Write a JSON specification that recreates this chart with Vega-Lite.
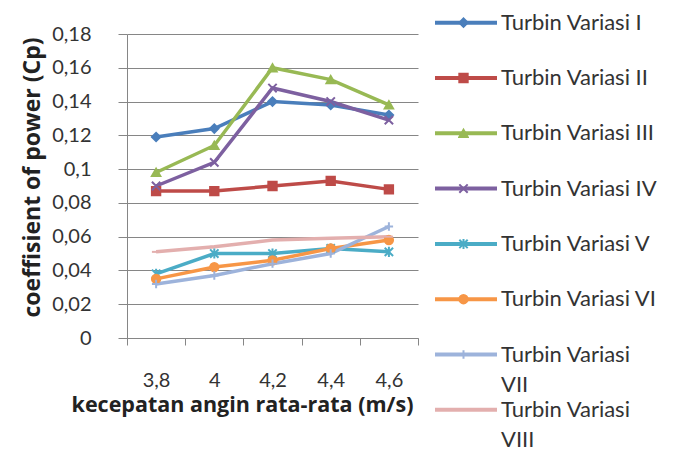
{
  "$schema": "https://vega.github.io/schema/vega-lite/v6.json",
  "width": 291,
  "height": 304,
  "autosize": "none",
  "padding": {"left": 127, "top": 34, "right": 257, "bottom": 111},
  "background": "white",
  "config": {"view": {"stroke": null}, "style": {"guide-label": {"lineHeight": 30}}},
  "data": {"values": [
    {"series": "Turbin Variasi I", "v": 3.8, "cp": 0.119},
    {"series": "Turbin Variasi I", "v": 4.0, "cp": 0.124},
    {"series": "Turbin Variasi I", "v": 4.2, "cp": 0.140},
    {"series": "Turbin Variasi I", "v": 4.4, "cp": 0.138},
    {"series": "Turbin Variasi I", "v": 4.6, "cp": 0.132},
    {"series": "Turbin Variasi II", "v": 3.8, "cp": 0.087},
    {"series": "Turbin Variasi II", "v": 4.0, "cp": 0.087},
    {"series": "Turbin Variasi II", "v": 4.2, "cp": 0.090},
    {"series": "Turbin Variasi II", "v": 4.4, "cp": 0.093},
    {"series": "Turbin Variasi II", "v": 4.6, "cp": 0.088},
    {"series": "Turbin Variasi III", "v": 3.8, "cp": 0.098},
    {"series": "Turbin Variasi III", "v": 4.0, "cp": 0.114},
    {"series": "Turbin Variasi III", "v": 4.2, "cp": 0.160},
    {"series": "Turbin Variasi III", "v": 4.4, "cp": 0.153},
    {"series": "Turbin Variasi III", "v": 4.6, "cp": 0.138},
    {"series": "Turbin Variasi IV", "v": 3.8, "cp": 0.090},
    {"series": "Turbin Variasi IV", "v": 4.0, "cp": 0.104},
    {"series": "Turbin Variasi IV", "v": 4.2, "cp": 0.148},
    {"series": "Turbin Variasi IV", "v": 4.4, "cp": 0.140},
    {"series": "Turbin Variasi IV", "v": 4.6, "cp": 0.129},
    {"series": "Turbin Variasi V", "v": 3.8, "cp": 0.038},
    {"series": "Turbin Variasi V", "v": 4.0, "cp": 0.050},
    {"series": "Turbin Variasi V", "v": 4.2, "cp": 0.050},
    {"series": "Turbin Variasi V", "v": 4.4, "cp": 0.053},
    {"series": "Turbin Variasi V", "v": 4.6, "cp": 0.051},
    {"series": "Turbin Variasi VI", "v": 3.8, "cp": 0.035},
    {"series": "Turbin Variasi VI", "v": 4.0, "cp": 0.042},
    {"series": "Turbin Variasi VI", "v": 4.2, "cp": 0.046},
    {"series": "Turbin Variasi VI", "v": 4.4, "cp": 0.053},
    {"series": "Turbin Variasi VI", "v": 4.6, "cp": 0.058},
    {"series": "Turbin Variasi VII", "v": 3.8, "cp": 0.032},
    {"series": "Turbin Variasi VII", "v": 4.0, "cp": 0.037},
    {"series": "Turbin Variasi VII", "v": 4.2, "cp": 0.044},
    {"series": "Turbin Variasi VII", "v": 4.4, "cp": 0.050},
    {"series": "Turbin Variasi VII", "v": 4.6, "cp": 0.066},
    {"series": "Turbin Variasi VIII", "v": 3.8, "cp": 0.051},
    {"series": "Turbin Variasi VIII", "v": 4.0, "cp": 0.054},
    {"series": "Turbin Variasi VIII", "v": 4.2, "cp": 0.058},
    {"series": "Turbin Variasi VIII", "v": 4.4, "cp": 0.059},
    {"series": "Turbin Variasi VIII", "v": 4.6, "cp": 0.060}
  ]},
  "encoding": {
    "x": {
      "field": "v", "type": "ordinal", "bandPosition": 0.5,
      "scale": {"type": "band", "paddingInner": 0, "paddingOuter": 0},
      "axis": {
        "labelAngle": 0,
        "labelExpr": "replace(datum.label, '.', ',')",
        "tickBand": "extent",
        "tickSize": 7,
        "tickColor": "#868686",
        "domainColor": "#868686",
        "labelFont": "Lato", "labelFontSize": 20, "labelColor": "#333333",
        "labelPadding": 25,
        "title": "kecepatan angin rata-rata (m/s)",
        "titleFont": "Open Sans", "titleFontSize": 21.5, "titleFontWeight": "bold", "titleColor": "#222222",
        "titleX": 115, "titleY": 73, "titleBaseline": "alphabetic", "titleAlign": "center"
      }
    },
    "y": {
      "field": "cp", "type": "quantitative",
      "scale": {"domain": [0, 0.18], "nice": false},
      "axis": {
        "values": [0, 0.02, 0.04, 0.06, 0.08, 0.1, 0.12, 0.14, 0.16, 0.18],
        "labelExpr": "replace(format(datum.value, '~g'), '.', ',')",
        "tickSize": 9, "tickColor": "#868686", "domainColor": "#868686",
        "gridColor": "#868686", "grid": true,
        "labelFont": "Lato", "labelFontSize": 20, "labelColor": "#333333",
        "labelPadding": 27,
        "title": "coeffisient of power (Cp)",
        "titleFont": "Open Sans", "titleFontSize": 23, "titleFontWeight": "bold", "titleColor": "#222222",
        "titleX": -95, "titleY": 143, "titleAngle": -90, "titleBaseline": "middle", "titleAlign": "center"
      }
    }
  },
  "layer": [
    {
      "mark": {"type": "line", "strokeWidth": 3.5},
      "encoding": {
        "color": {
          "field": "series", "type": "nominal",
          "scale": {
            "domain": ["Turbin Variasi I", "Turbin Variasi II", "Turbin Variasi III", "Turbin Variasi IV", "Turbin Variasi V", "Turbin Variasi VI", "Turbin Variasi VII", "Turbin Variasi VIII"],
            "range": ["#4A7EBB", "#BE4B48", "#98B954", "#7D60A0", "#4BACC6", "#F79646", "#9DB3DB", "#E3AFAE"]
          },
          "legend": {
            "orient": "none", "legendX": 306, "legendY": -21.3,
            "title": null, "clipHeight": 20,
            "symbolType": "stroke", "symbolSize": 3844, "symbolStrokeWidth": 4,
            "labelFont": "Lato", "labelFontSize": 22, "labelColor": "#333333",
            "labelOffset": 2, "labelLimit": 300, "rowPadding": 3.3,
            "labelExpr": "datum.label == 'Turbin Variasi VII' ? ['Turbin Variasi', 'VII'] : datum.label == 'Turbin Variasi VIII' ? ['Turbin Variasi', 'VIII'] : [datum.label, '']"
          }
        }
      }
    },
    {
      "mark": {"type": "point", "filled": true, "size": 70, "strokeWidth": 2, "opacity": 1, "stroke": {"expr": "scale('color', datum.series)"}},
      "encoding": {
        "color": {"field": "series", "type": "nominal"},
        "shape": {
          "field": "series", "type": "nominal",
          "scale": {"range": ["diamond", "square", "triangle-up", "M-1,-1L1,1M-1,1L1,-1", "M-1,-1L1,1M-1,1L1,-1M0,-1.2L0,1.2", "circle", "M-1,0L1,0M0,-1L0,1", "M-1,0L1,0"]},
          "legend": {
            "orient": "none", "legendX": 331, "legendY": -21.3,
            "title": null, "clipHeight": 20,
            "symbolSize": 70, "symbolStrokeWidth": 2,
            "symbolFillColor": {"expr": "scale('color', datum.value)"},
            "symbolStrokeColor": {"expr": "scale('color', datum.value)"},
            "labelExpr": "''",
            "labelOffset": 0, "rowPadding": 35.3
          }
        }
      }
    }
  ]
}
